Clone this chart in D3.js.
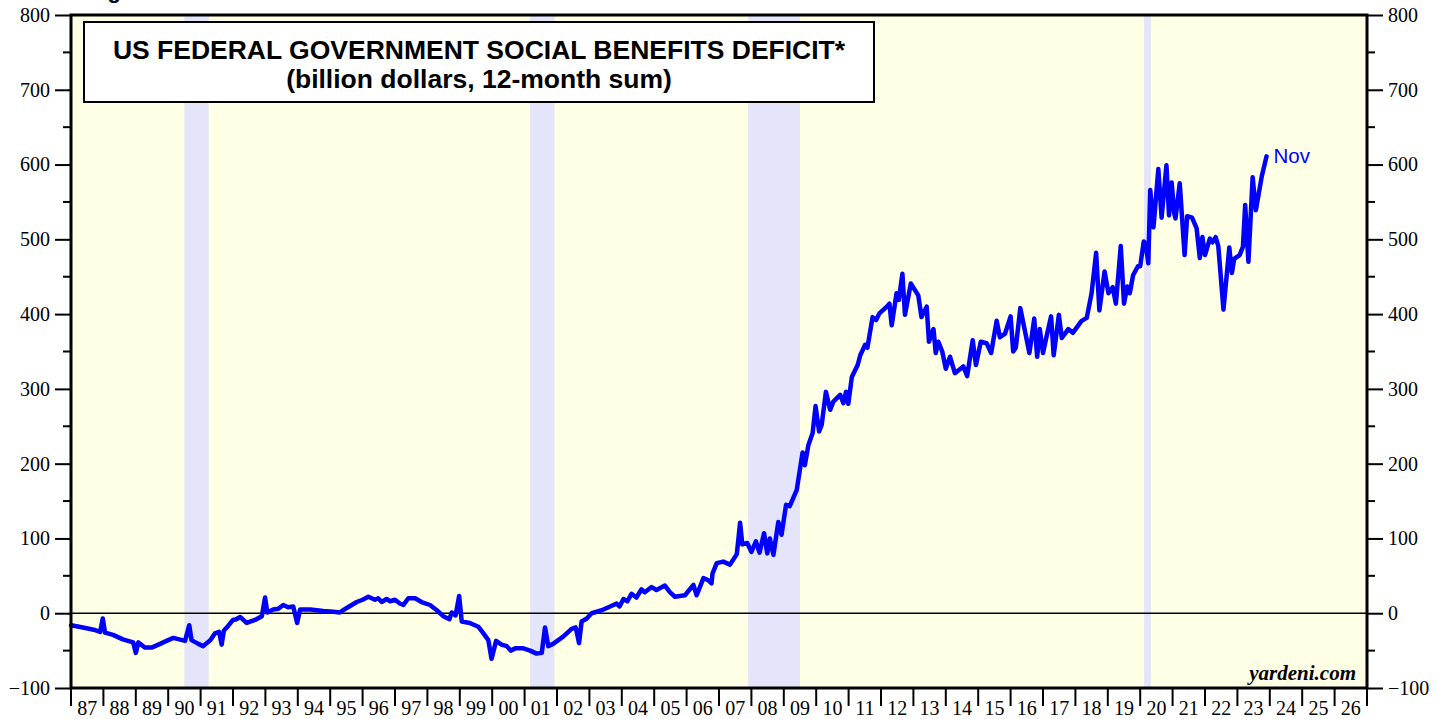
<!DOCTYPE html>
<html>
<head>
<meta charset="utf-8">
<script src="https://cdn.jsdelivr.net/npm/d3@7"></script>
<style>
  body { margin: 0; background: #fff; }
  svg { display: block; }
</style>
</head>
<body>
<div id="vis"></div>
<script>

var obsYears = [
  1987.00, 1987.25, 1987.48, 1987.70, 1987.90, 1987.98, 1988.05, 1988.30, 1988.60, 1988.92,
  1989.00, 1989.08, 1989.28, 1989.49, 1989.80, 1990.00, 1990.16, 1990.52, 1990.65, 1990.72,
  1990.93, 1991.08, 1991.30, 1991.44, 1991.57, 1991.65, 1991.72, 1991.85, 1992.00, 1992.10,
  1992.22, 1992.42, 1992.68, 1992.89, 1992.99, 1993.06, 1993.24, 1993.40, 1993.55, 1993.70,
  1993.86, 1993.98, 1994.07, 1994.38, 1994.79, 1995.10, 1995.30, 1995.51, 1995.82, 1996.00,
  1996.18, 1996.38, 1996.48, 1996.59, 1996.74, 1996.85, 1997.00, 1997.15, 1997.26, 1997.41,
  1997.62, 1997.82, 1998.08, 1998.29, 1998.49, 1998.68, 1998.75, 1998.87, 1998.98, 1999.06,
  1999.31, 1999.57, 1999.73, 1999.88, 1999.98, 2000.12, 2000.29, 2000.45, 2000.57, 2000.71,
  2000.96, 2001.17, 2001.37, 2001.53, 2001.63, 2001.73, 2001.88, 2002.20, 2002.45, 2002.58,
  2002.68, 2002.76, 2002.92, 2003.07, 2003.38, 2003.64, 2003.84, 2003.93, 2004.05, 2004.17,
  2004.30, 2004.45, 2004.61, 2004.71, 2004.92, 2005.07, 2005.33, 2005.49, 2005.64, 2005.95,
  2006.21, 2006.31, 2006.52, 2006.67, 2006.77, 2006.80, 2006.93, 2007.13, 2007.34, 2007.55,
  2007.65, 2007.72, 2007.87, 2008.00, 2008.14, 2008.25, 2008.39, 2008.49, 2008.57, 2008.68,
  2008.83, 2008.93, 2009.07, 2009.18, 2009.40, 2009.58, 2009.65, 2009.76, 2009.89, 2009.98,
  2010.09, 2010.17, 2010.30, 2010.43, 2010.53, 2010.74, 2010.84, 2010.92, 2010.99, 2011.10,
  2011.28, 2011.36, 2011.51, 2011.58, 2011.74, 2011.85, 2011.95, 2012.18, 2012.26, 2012.33,
  2012.48, 2012.55, 2012.66, 2012.74, 2012.92, 2013.15, 2013.25, 2013.41, 2013.48, 2013.62,
  2013.69, 2013.77, 2013.89, 2014.00, 2014.13, 2014.28, 2014.54, 2014.66, 2014.83, 2014.93,
  2015.08, 2015.26, 2015.40, 2015.57, 2015.67, 2015.83, 2016.00, 2016.08, 2016.16, 2016.30,
  2016.58, 2016.73, 2016.82, 2016.90, 2017.00, 2017.10, 2017.25, 2017.33, 2017.49, 2017.58,
  2017.78, 2017.92, 2018.19, 2018.35, 2018.50, 2018.64, 2018.74, 2018.90, 2019.02, 2019.15,
  2019.25, 2019.40, 2019.50, 2019.60, 2019.68, 2019.78, 2019.93, 2020.00, 2020.11, 2020.17,
  2020.25, 2020.31, 2020.41, 2020.56, 2020.66, 2020.81, 2020.89, 2020.97, 2021.05, 2021.09,
  2021.22, 2021.37, 2021.45, 2021.60, 2021.74, 2021.84, 2021.92, 2022.00, 2022.15, 2022.23,
  2022.33, 2022.41, 2022.57, 2022.75, 2022.83, 2022.90, 2023.07, 2023.17, 2023.24, 2023.34,
  2023.47, 2023.57, 2023.75, 2023.90
];

var obsValues = [
  -16, -18, -20, -22, -25, -7, -26, -29, -35, -39,
  -53, -39, -46, -46, -40, -36, -33, -37, -16, -36,
  -41, -44, -36, -27, -25, -42, -23, -17, -9, -8,
  -5, -13, -9, -4, 21, 1, 5, 6, 11, 8,
  9, -13, 5, 5, 3, 2, 1, 7, 15, 18,
  22, 18, 20, 15, 19, 16, 18, 13, 11, 20,
  20, 15, 11, 4, -4, -8, 1, -3, 23, -11,
  -13, -18, -27, -36, -61, -37, -42, -44, -50, -47,
  -47, -50, -54, -53, -19, -44, -41, -31, -21, -19,
  -40, -11, -7, 0, 4, 9, 13, 9, 19, 16,
  26, 21, 32, 28, 35, 31, 37, 28, 22, 24,
  38, 24, 47, 44, 40, 53, 67, 69, 65, 79,
  121, 92, 94, 82, 96, 81, 107, 80, 100, 78,
  122, 105, 145, 143, 165, 215, 198, 225, 241, 277,
  243, 252, 296, 272, 283, 292, 281, 296, 280, 316,
  332, 345, 359, 355, 396, 392, 401, 410, 414, 385,
  428, 419, 454, 399, 441, 425, 396, 410, 363, 380,
  348, 363, 350, 327, 343, 321, 330, 317, 365, 332,
  363, 361, 348, 391, 369, 374, 397, 350, 355, 408,
  348, 394, 343, 380, 348, 368, 397, 345, 399, 368,
  380, 375, 391, 395, 428, 482, 405, 457, 428, 436,
  414, 491, 414, 437, 428, 452, 464, 464, 497, 494,
  468, 566, 516, 594, 529, 599, 532, 576, 535, 528,
  575, 479, 531, 529, 515, 475, 503, 479, 501, 496,
  503, 491, 406, 489, 455, 474, 479, 490, 546, 470,
  583, 539, 584, 611
];

// recession spans (decimal years)
var recessions = [[1990.5, 1991.25], [2001.17, 2001.92], [2007.9, 2009.5], [2020.12, 2020.33]];

var yearLabels = ['87','88','89','90','91','92','93','94','95','96','97','98','99','00','01','02','03','04','05','06',
  '07','08','09','10','11','12','13','14','15','16','17','18','19','20','21','22','23','24','25','26'];

var yTicks = [-100, 0, 100, 200, 300, 400, 500, 600, 700, 800];
var yMinorTicks = [-50, 50, 150, 250, 350, 450, 550, 650, 750];

var titleLines = ['US FEDERAL GOVERNMENT SOCIAL BENEFITS DEFICIT*', '(billion dollars, 12-month sum)'];

var W = 1444, H = 719;
var plotL = 71, plotR = 1367, plotT = 15, plotB = 688;
var serif = '"Liberation Serif", "Times New Roman", serif';
var sans = '"Liberation Sans", Arial, sans-serif';

var svg = d3.select('#vis').append('svg')
  .attr('width', W)
  .attr('height', H);

var x = d3.scaleLinear().domain([1987, 2027]).range([plotL, plotR]);
var y = d3.scaleLinear().domain([-100, 800]).range([plotB, plotT]);

// cut-off figure caption at the top
svg.append('text')
  .attr('x', 88).attr('y', -2)
  .attr('font-family', sans).attr('font-weight', 'bold').attr('font-size', 22)
  .text('Figure 38.');

// plot background
svg.append('rect')
  .attr('x', plotL).attr('y', plotT)
  .attr('width', plotR - plotL).attr('height', plotB - plotT)
  .attr('fill', '#ffffe5');

svg.selectAll('.recession')
  .data(recessions)
  .enter().append('rect')
  .attr('class', 'recession')
  .attr('x', function (d) { return x(d[0]); })
  .attr('y', plotT)
  .attr('width', function (d) { return x(d[1]) - x(d[0]); })
  .attr('height', plotB - plotT)
  .attr('fill', '#e4e4fa');

// zero line
svg.append('line')
  .attr('x1', plotL).attr('x2', plotR)
  .attr('y1', y(0)).attr('y2', y(0))
  .attr('stroke', '#000').attr('stroke-width', 1.5);

// series
var points = obsYears.map(function (yr, i) { return [yr, obsValues[i]]; });

var line = d3.line()
  .x(function (d) { return x(d[0]); })
  .y(function (d) { return y(d[1]); });

svg.append('path')
  .datum(points)
  .attr('d', line)
  .attr('fill', 'none')
  .attr('stroke', '#0000ff')
  .attr('stroke-width', 4.5)
  .attr('stroke-linejoin', 'round')
  .attr('stroke-linecap', 'round');

var last = points[points.length - 1];
svg.append('text')
  .attr('x', x(last[0]) + 7).attr('y', y(last[1]) + 7)
  .attr('font-family', sans).attr('font-size', 20.5)
  .attr('fill', '#0000ff')
  .text('Nov');

// title box
svg.append('rect')
  .attr('x', 84).attr('y', 22)
  .attr('width', 790).attr('height', 80)
  .attr('fill', '#fff').attr('stroke', '#000').attr('stroke-width', 2);

svg.selectAll('.title')
  .data(titleLines)
  .enter().append('text')
  .attr('class', 'title')
  .attr('x', 479)
  .attr('y', function (d, i) { return 59 + i * 29; })
  .attr('text-anchor', 'middle')
  .attr('font-family', sans).attr('font-weight', 'bold')
  .attr('font-size', 26.5)
  .text(function (d) { return d; });

// frame
svg.append('rect')
  .attr('x', plotL).attr('y', plotT)
  .attr('width', plotR - plotL).attr('height', plotB - plotT)
  .attr('fill', 'none').attr('stroke', '#000').attr('stroke-width', 3);

// y axes
var yLeft = d3.axisLeft(y).tickValues(yTicks).tickSize(16).tickPadding(5);
var yRight = d3.axisRight(y).tickValues(yTicks).tickSize(16).tickPadding(5);

function styleAxis(g) {
  g.select('.domain').remove();
  g.selectAll('.tick line').attr('stroke', '#000').attr('stroke-width', 2);
  g.selectAll('.tick text')
    .attr('font-family', serif).attr('font-size', 20).attr('fill', '#000');
}

svg.append('g').attr('transform', 'translate(' + plotL + ',0)').call(yLeft).call(styleAxis);
svg.append('g').attr('transform', 'translate(' + plotR + ',0)').call(yRight).call(styleAxis);

svg.selectAll('.minorL')
  .data(yMinorTicks)
  .enter().append('line')
  .attr('x1', plotL - 8).attr('x2', plotL)
  .attr('y1', function (d) { return y(d); }).attr('y2', function (d) { return y(d); })
  .attr('stroke', '#000').attr('stroke-width', 2);

svg.selectAll('.minorR')
  .data(yMinorTicks)
  .enter().append('line')
  .attr('x1', plotR).attr('x2', plotR + 8)
  .attr('y1', function (d) { return y(d); }).attr('y2', function (d) { return y(d); })
  .attr('stroke', '#000').attr('stroke-width', 2);

// x axis: ticks at year starts, labels centred in each year
var yearStarts = d3.range(1987, 2028);
svg.selectAll('.xtick')
  .data(yearStarts)
  .enter().append('line')
  .attr('x1', function (d) { return x(d); }).attr('x2', function (d) { return x(d); })
  .attr('y1', plotB).attr('y2', plotB + 18)
  .attr('stroke', '#000').attr('stroke-width', 2);

svg.selectAll('.xlabel')
  .data(yearLabels)
  .enter().append('text')
  .attr('x', function (d, i) { return x(1987 + i + 0.5); })
  .attr('y', 715)
  .attr('text-anchor', 'middle')
  .attr('font-family', serif).attr('font-size', 20)
  .text(function (d) { return d; });

svg.append('text')
  .attr('x', 1356).attr('y', 680)
  .attr('text-anchor', 'end')
  .attr('font-family', serif).attr('font-weight', 'bold').attr('font-style', 'italic')
  .attr('font-size', 21)
  .text('yardeni.com');

</script>
</body>
</html>
